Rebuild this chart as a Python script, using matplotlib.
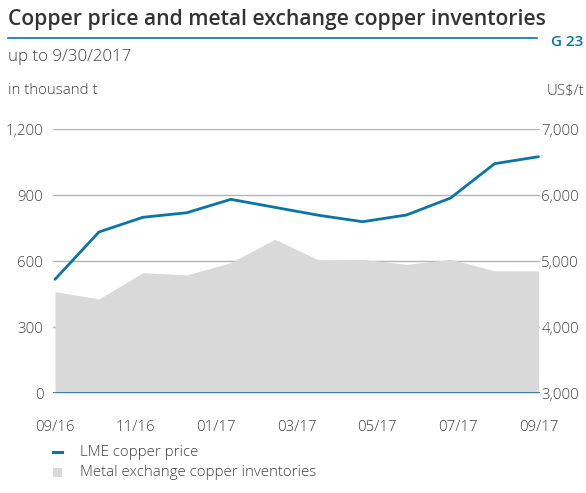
import numpy as np
import matplotlib
matplotlib.use("Agg")
import matplotlib.pyplot as plt
from matplotlib.patches import Rectangle
from matplotlib.lines import Line2D

# Month-end observations, Sep 2016 - Sep 2017
tick_labels = ["09/16", "11/16", "01/17", "03/17", "05/17", "07/17", "09/17"]
lme_price = [4727, 5444, 5667, 5736, 5939, 5818, 5697, 5600, 5702, 5959, 6479, 6585]  # US$/t
inventories = [462, 429, 548, 538, 594, 700, 606, 609, 586, 609, 557, 556]  # thousand t

left_ticks = [0, 300, 600, 900, 1200]
right_ticks = [3000, 4000, 5000, 6000, 7000]

BLUE = "#0b74a7"
GREY_FILL = "#d9d9d9"
GRID = "#b4b4b4"
TEXT = "#424242"
FONT = "Open Sans"
BODY_W = "light"
FS = 10.8

plt.rcParams["font.family"] = [FONT, "DejaVu Sans"]

W, H = 586, 493
fig = plt.figure(figsize=(W / 100, H / 100), dpi=100)

def fx(px):
    return px / W

def fy(py):
    return 1 - py / H

ax_l, ax_r, ax_t, ax_b = 53, 540, 129.3, 393.3
ax = fig.add_axes([fx(ax_l), fy(ax_b), fx(ax_r - ax_l), fy(ax_t) - fy(ax_b)])

n = len(lme_price)
x = np.linspace(0, 12, n)
span = 12
px_per_unit = (538.5 - 55) / span
ax.set_xlim(-(55 - ax_l) / px_per_unit, span + (ax_r - 538.5) / px_per_unit)
ax.set_ylim(left_ticks[0], left_ticks[-1])

# Inventories as grey area on the left scale
ax.fill_between(x, 0, inventories, color=GREY_FILL, linewidth=0, zorder=1)

# Gridlines
for v in left_ticks[1:]:
    ax.axhline(v, color=GRID, linewidth=1.0, zorder=0.5)
ax.axhline(0, color="#1d6f99", linewidth=1.2, zorder=3)

# Price line on the right scale
ax2 = ax.twinx()
ax2.set_ylim(right_ticks[0], right_ticks[-1])
ax2.plot(x, lme_price, color=BLUE, linewidth=2.0, solid_joinstyle="round",
         solid_capstyle="round", zorder=4)

for a in (ax, ax2):
    for s in a.spines.values():
        s.set_visible(False)
    a.tick_params(length=0)

ax.set_yticks(left_ticks)
ax.set_yticklabels([f"{v:,}" for v in left_ticks], fontsize=FS, color=TEXT, fontweight=BODY_W)
ax.tick_params(axis="y", pad=7)
ax2.set_yticks(right_ticks)
ax2.set_yticklabels([f"{v:,}" for v in right_ticks], fontsize=FS, color=TEXT, fontweight=BODY_W)
ax2.tick_params(axis="y", pad=1)

ax.set_xticks(np.linspace(0, span, len(tick_labels)))
ax.set_xticklabels(tick_labels, fontsize=FS, color=TEXT, fontweight=BODY_W)
ax.tick_params(axis="x", pad=19)

# Header
fig.text(fx(8), fy(20), "Copper price and metal exchange copper inventories",
         fontsize=15.2, fontweight="semibold", color="#333333", va="center", ha="left")
fig.add_artist(Line2D([fx(8), fx(537)], [fy(37.5), fy(37.5)], color=BLUE, linewidth=1.2))
fig.text(fx(551), fy(42), "G 23", fontsize=11, fontweight="semibold", color=BLUE,
         va="center", ha="left")
fig.text(fx(8), fy(57), "up to 9/30/2017", fontsize=12.2, color=TEXT, fontweight=BODY_W,
         va="center", ha="left")
fig.text(fx(8), fy(91), "in thousand t", fontsize=FS, color=TEXT, fontweight=BODY_W,
         va="center", ha="left")
fig.text(fx(547), fy(91), "US$/t", fontsize=FS, color=TEXT, fontweight=BODY_W,
         va="center", ha="left")

# Legend
fig.add_artist(Line2D([fx(53), fx(62)], [fy(451.5), fy(451.5)], color=BLUE, linewidth=2.2))
fig.text(fx(80), fy(453), "LME copper price", fontsize=FS, color=TEXT, fontweight=BODY_W,
         va="center", ha="left")
fig.add_artist(Rectangle((fx(53), fy(477)), fx(9), fy(468) - fy(477),
                         transform=fig.transFigure, color=GREY_FILL, linewidth=0))
fig.text(fx(80), fy(472), "Metal exchange copper inventories", fontsize=FS, color=TEXT,
         fontweight=BODY_W, va="center", ha="left")

fig.savefig("out.png", dpi=100)
